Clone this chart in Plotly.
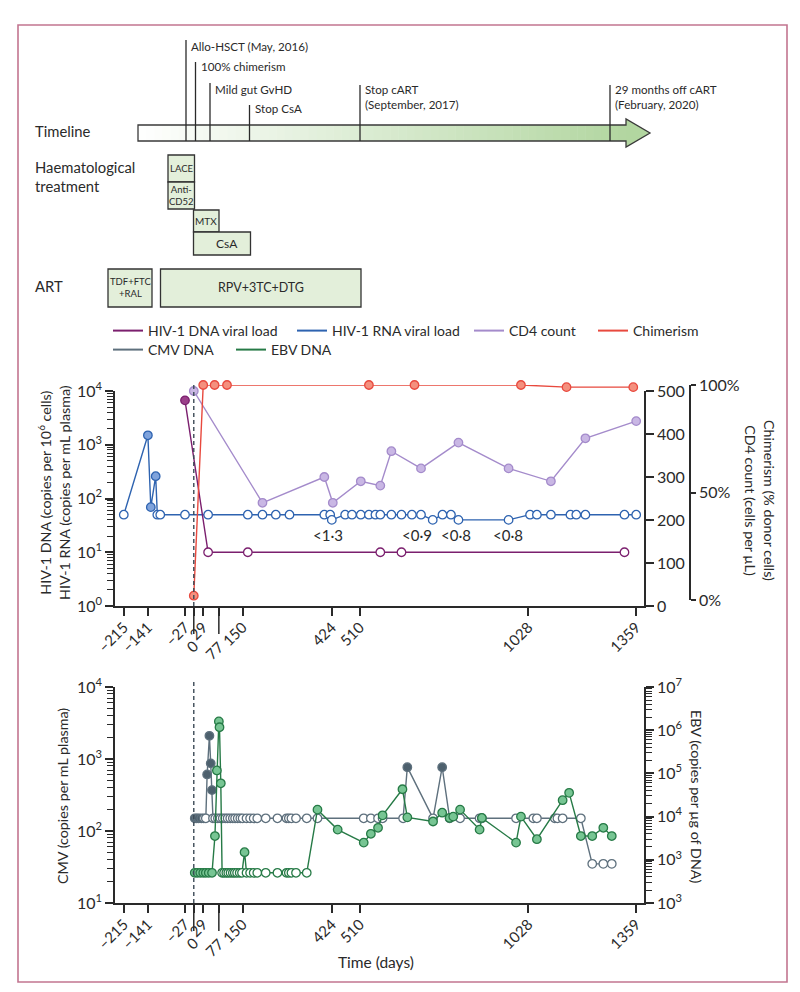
import math
import plotly.graph_objects as go

# ---------------- data ----------------
x_ticks = [-215, -141, -27, 0, 29, 77, 150, 424, 510, 1028, 1359]
x_tick_labels = ["–215", "–141", "–27", "0", "29", "77", "150", "424", "510", "1028", "1359"]
long_ticks = [0, 77]

# HIV-1 RNA (copies per mL plasma)
rna_days = [-215, -141, -132, -117, -112, -103, -27, 44, 166, 211, 252, 294,
            401, 419, 424, 465, 486, 513, 538, 558, 573, 607, 638, 670,
            698, 734, 764, 790, 813, 967, 1033, 1054, 1097, 1157, 1175, 1203,
            1323, 1359]
rna_vals = [50, 1500, 69, 260, 50, 50, 50, 50, 50, 50, 50, 50,
            50, 50, 40, 50, 50, 50, 50, 50, 50, 50, 50, 50,
            50, 40, 50, 50, 40, 40, 50, 50, 50, 50, 50, 50,
            50, 50]
rna_detected = [False, True, True, True] + [False] * 34

lod_days = [413, 686, 804, 966]
lod_labels = ["<1·3", "<0·9", "<0·8", "<0·8"]
lod_level = 21

# HIV-1 DNA (copies per 10^6 cells)
dna_days = [-27, 44, 166, 573, 638, 1323]
dna_vals = [6700, 10, 10, 10, 10, 10]
dna_detected = [True, False, False, False, False, False]

# CD4 count (cells per uL)
cd4_days = [0, 211, 401, 427, 513, 573, 607, 698, 813, 967, 1097, 1203, 1359]
cd4_vals = [500, 240, 300, 240, 290, 280, 360, 320, 380, 320, 290, 390, 430]

# Chimerism (% donor cells)
chim_days = [0, 29, 64, 102, 538, 678, 1005, 1145, 1350]
chim_vals = [2, 100, 100, 100, 100, 100, 100, 99, 99]

# CMV DNA (copies per mL plasma)
cmv_days = [3, 9, 15, 23, 31, 37, 41, 48, 52, 56,
            59, 66, 74, 82, 89, 97, 104, 112, 120, 127,
            135, 143, 150, 162, 173, 184, 195, 221, 257, 285,
            292, 300, 314, 347, 380, 522, 544, 566, 580, 643,
            656, 735, 763, 786, 818, 878, 885, 990, 1043, 1054,
            1109, 1117, 1133, 1189, 1224, 1258, 1284]
cmv_vals = [150, 150, 150, 150, 150, 150, 610, 2100, 870, 370,
            150, 150, 150, 150, 150, 150, 150, 150, 150, 150,
            150, 150, 150, 150, 150, 150, 150, 150, 150, 150,
            150, 150, 150, 150, 150, 150, 150, 150, 150, 150,
            770, 150, 770, 150, 150, 150, 150, 150, 150, 150,
            150, 150, 150, 150, 35, 35, 35]
cmv_detected = [True, True, True, True, False, False, True, True, True, True,
                False, False, False, False, False, False, False, False, False, False,
                False, False, False, False, False, False, False, False, False, False,
                False, False, False, False, False, False, False, False, False, False,
                True, False, True, False, False, False, False, False, False, False,
                False, False, False, False, False, False, False]

# EBV DNA (copies per ug of DNA)
ebv_days = [3, 11, 20, 29, 37, 46, 56,
            65, 71, 77, 79, 83,
            87, 93, 100, 106, 113, 120, 126, 133, 141, 148,
            156,
            162, 173, 184, 195, 221, 257, 285, 292, 300, 314, 347,
            380, 442, 522, 544, 566, 580, 641, 656, 735, 763, 786, 797,
            818, 878, 885, 990, 1005, 1054, 1133, 1153, 1189, 1224, 1258, 1284]
ebv_vals = [500, 500, 500, 500, 500, 500, 500,
            3550, 117000, 1600000, 1170000, 59000,
            500, 500, 500, 500, 500, 500, 500, 500, 500, 500,
            1500,
            500, 500, 500, 500, 500, 500, 500, 500, 500, 500, 500,
            14500, 5000, 2500, 4000, 5500, 10700, 43000, 9600, 7700, 12300, 9300, 10000,
            14500, 5000, 9300, 2500, 10000, 3000, 24000, 35500, 3550, 3550, 5500, 3550]
ebv_detected = ([True] * 7 + [True] * 5 + [False] * 10 + [True] + [False] * 11 + [True] * 24)

# timeline schematic
timeline_events = ["Allo-HSCT (May, 2016)", "100% chimerism", "Mild gut GvHD", "Stop CsA",
                   "Stop cART<br>(September, 2017)", "29 months off cART<br>(February, 2020)"]
haem_boxes = ["LACE", "Anti-<br>CD52", "MTX", "CsA"]
art_boxes = ["TDF+FTC<br>+RAL", "RPV+3TC+DTG"]

legend_names = ["HIV-1 DNA viral load", "HIV-1 RNA viral load", "CD4 count", "Chimerism",
                "CMV DNA", "EBV DNA"]

# ---------------- styling / layout helpers ----------------
W, H = 800, 992
def fx(p):
    return p / W
def fy(p):
    return 1 - p / H

FONT = "Lato, Liberation Sans, Arial, sans-serif"
INK = "#2a2a2a"
DNA_C, DNA_F = "#7b1f6e", "#9b3f8a"
RNA_C, RNA_F = "#2e63b0", "#7fa3dc"
CD4_C, CD4_F = "#a48bcb", "#c9b7e4"
CHIM_C, CHIM_F = "#e8493e", "#f4907e"
CMV_C, CMV_F = "#5e707d", "#4d606d"
EBV_C, EBV_F = "#267a46", "#77c593"

FS_TICK = 15
FS_YTICK = 16
FS_TITLE = 14.3
FS_LEG = 14
FS_SIDE = 14.8
FS_EVENT = 11.6

X_RANGE = [-242, 1383]
XDOM = [fx(115), fx(644)]
TOP = (391, 606)
BOT = (687, 903)

fig = go.Figure()

def series(xs, ys, det, line_c, fill_c, xa, ya, name):
    fills = [fill_c if d else "white" for d in det]
    fig.add_trace(go.Scatter(
        x=xs, y=ys, mode="lines+markers", name=name, showlegend=False,
        xaxis=xa, yaxis=ya, cliponaxis=False,
        line=dict(color=line_c, width=1.4),
        marker=dict(size=8.5, color=fills, line=dict(color=line_c, width=1.3)),
    ))

series(cd4_days, cd4_vals, [True] * len(cd4_days), CD4_C, CD4_F, "x", "y2", "CD4 count")
series(rna_days, rna_vals, rna_detected, RNA_C, RNA_F, "x", "y", "HIV-1 RNA viral load")
series(dna_days, dna_vals, dna_detected, DNA_C, DNA_F, "x", "y", "HIV-1 DNA viral load")
series(chim_days, chim_vals, [True] * len(chim_days), CHIM_C, CHIM_F, "x", "y3", "Chimerism")
series(cmv_days, cmv_vals, cmv_detected, CMV_C, CMV_F, "x2", "y4", "CMV DNA")
series(ebv_days, ebv_vals, ebv_detected, EBV_C, EBV_F, "x2", "y5", "EBV DNA")

# legend entries (line only), one small legend per entry
legend_colors = [DNA_C, RNA_C, CD4_C, CHIM_C, CMV_C, EBV_C]
legend_pos = [(115, 331), (299, 331), (476, 331), (600, 331), (115, 350), (238, 350)]
for i, (nm, col) in enumerate(zip(legend_names, legend_colors)):
    lid = "legend" if i == 0 else f"legend{i + 1}"
    fig.add_trace(go.Scatter(x=[None], y=[None], mode="lines", name=nm,
                             line=dict(color=col, width=2), legend=lid,
                             xaxis="x", yaxis="y", showlegend=True))

# ---------------- axes ----------------
def log_minor(lo, hi):
    return [k * 10 ** n for n in range(lo, hi) for k in range(2, 10)]

def sup_labels(lo, hi):
    return [f"10<sup>{n}</sup>" for n in range(lo, hi + 1)]

x_text = ["" if v in long_ticks else t for v, t in zip(x_ticks, x_tick_labels)]
xcommon = dict(domain=XDOM, range=X_RANGE, tickmode="array", tickvals=x_ticks, ticktext=x_text,
               tickangle=-45, ticks="outside", ticklen=8, tickwidth=1.5, tickcolor=INK,
               ticklabelstandoff=-3,
               showline=True, linecolor=INK, linewidth=1.6, showgrid=False, zeroline=False,
               automargin=False,
               tickfont=dict(size=FS_TICK, color=INK, family=FONT))
ycommon = dict(showgrid=False, zeroline=False, showline=True, linecolor=INK, linewidth=1.6,
               ticks="outside", tickcolor=INK, tickwidth=1.5, automargin=False,
               tickfont=dict(size=FS_YTICK, color=INK, family=FONT))

layout = dict(
    template="none",
    width=W, height=H, margin=dict(l=0, r=0, t=0, b=0, autoexpand=False),
    paper_bgcolor="white", plot_bgcolor="rgba(0,0,0,0)",
    font=dict(family=FONT, color=INK),
    xaxis=dict(anchor="y", **xcommon),
    xaxis2=dict(anchor="y4", **xcommon),
    yaxis=dict(domain=[fy(TOP[1]), fy(TOP[0])], type="log", range=[0, 4], anchor="x",
               tickmode="array", tickvals=[10 ** n for n in range(0, 5)], ticktext=sup_labels(0, 4),
               ticklen=8,
               minor=dict(ticks="outside", ticklen=6, tickcolor=INK, tickwidth=1.1,
                          tickmode="array", tickvals=log_minor(0, 4)),
               **ycommon),
    yaxis2=dict(overlaying="y", side="right", anchor="x", range=[0, 500],
                tickmode="array", tickvals=[0, 100, 200, 300, 400, 500], ticklen=8, **ycommon),
    yaxis3=dict(domain=[fy(600), fy(385)], anchor="free", position=fx(690), side="right",
                range=[0, 100], tickmode="array", tickvals=[0, 50, 100],
                ticktext=["0%", "50%", "100%"], ticklen=5, **ycommon),
    yaxis4=dict(domain=[fy(BOT[1]), fy(BOT[0])], type="log", range=[1, 4], anchor="x2",
                tickmode="array", tickvals=[10 ** n for n in range(1, 5)], ticktext=sup_labels(1, 4),
                ticklen=8,
                minor=dict(ticks="outside", ticklen=6, tickcolor=INK, tickwidth=1.1,
                           tickmode="array", tickvals=log_minor(1, 4)),
                **ycommon),
    yaxis5=dict(overlaying="y4", side="right", anchor="x2", type="log", range=[2, 7],
                tickmode="array", tickvals=[10 ** n for n in range(2, 8)],
                ticktext=["10<sup>3</sup>", "10<sup>3</sup>", "10<sup>4</sup>", "10<sup>5</sup>",
                          "10<sup>6</sup>", "10<sup>7</sup>"],
                ticklen=8,
                minor=dict(ticks="outside", ticklen=6, tickcolor=INK, tickwidth=1.1,
                           tickmode="array", tickvals=log_minor(2, 7)),
                **ycommon),
)

for i, (xp, yp) in enumerate(legend_pos):
    lid = "legend" if i == 0 else f"legend{i + 1}"
    layout[lid] = dict(x=fx(xp - 7), y=fy(yp), xanchor="left", yanchor="middle",
                       orientation="h", bgcolor="rgba(0,0,0,0)", borderwidth=0,
                       font=dict(size=FS_LEG, family=FONT, color=INK))

fig.update_layout(**layout)

shapes = []
annotations = []

# border
shapes.append(dict(type="rect", xref="paper", yref="paper", x0=fx(18), x1=fx(787), y0=fy(982), y1=fy(25),
                   line=dict(color="#c27590", width=1.6), fillcolor="rgba(0,0,0,0)", layer="below"))

# day-0 dashed lines and long ticks
for xa, ya, (t, b) in (("x", "y", TOP), ("x2", "y4", BOT)):
    shapes.append(dict(type="line", xref=xa, yref=f"{ya} domain", x0=0, x1=0, y0=0, y1=1.03,
                       line=dict(color="#3c4a56", width=1.4, dash="4px,3px")))
    for v, lab in zip(x_ticks, x_tick_labels):
        if v in long_ticks:
            shapes.append(dict(type="line", xref=xa, yref="paper", x0=v, x1=v, y0=fy(b), y1=fy(b + 28),
                               line=dict(color=INK, width=1.5)))
            annotations.append(dict(x=v, y=fy(b + 28), xref=xa, yref="paper", text=lab, showarrow=False,
                                    textangle=-45, xanchor="right", yanchor="top",
                                    xshift=11, yshift=0, font=dict(size=FS_TICK, family=FONT, color=INK)))

# below-detection labels
for d, lab in zip(lod_days, lod_labels):
    annotations.append(dict(x=d, y=math.log10(lod_level), xref="x", yref="y", text=lab, showarrow=False,
                            xanchor="center", yanchor="middle",
                            font=dict(size=15, family=FONT, color=INK)))

# axis titles
def title(x, y, text, ang, size=FS_TITLE):
    annotations.append(dict(x=fx(x), y=fy(y), xref="paper", yref="paper", text=text, showarrow=False,
                            textangle=ang, xanchor="center", yanchor="middle", align="center",
                            font=dict(size=size, family=FONT, color=INK)))

title(54, 493, "HIV-1 DNA (copies per 10<sup>6</sup> cells)<br>HIV-1 RNA (copies per mL plasma)", -90)
title(760, 500, "Chimerism (% donor cells)<br>CD4 count (cells per µL)", 90)
title(62, 796, "CMV (copies per mL plasma)", -90)
title(697, 796, "EBV (copies per µg of DNA)", 90)
title(376, 962, "Time (days)", 0, 15.5)

# ---------------- timeline schematic ----------------
def left_label(x, y, text, size):
    annotations.append(dict(x=fx(x), y=fy(y), xref="paper", yref="paper", text=text, showarrow=False,
                            xanchor="left", yanchor="middle", align="left",
                            font=dict(size=size, family=FONT, color=INK)))

left_label(33, 131, "Timeline", FS_SIDE)
left_label(33, 176, "Haematological<br>treatment", FS_SIDE)
left_label(33, 286, "ART", FS_SIDE)

# arrow with gradient body
ax0, ax1, atip = 138, 626, 650
ay0, ay1 = 125, 141
c0, c1 = (255, 255, 255), (178, 214, 160)
n = 60
for k in range(n):
    t = (k + 0.5) / n
    col = tuple(int(round(c0[j] + (c1[j] - c0[j]) * t)) for j in range(3))
    xa0 = ax0 + (ax1 - ax0) * k / n
    xa1 = ax0 + (ax1 - ax0) * (k + 1) / n + 0.5
    shapes.append(dict(type="rect", xref="paper", yref="paper", x0=fx(xa0), x1=fx(xa1), y0=fy(ay1), y1=fy(ay0),
                       line=dict(width=0), fillcolor=f"rgb{col}"))
outline = (f"M {fx(ax0)},{fy(ay0)} L {fx(ax1)},{fy(ay0)} L {fx(ax1)},{fy(119)} L {fx(atip)},{fy(133)} "
           f"L {fx(ax1)},{fy(147)} L {fx(ax1)},{fy(ay1)} L {fx(ax0)},{fy(ay1)} Z")
head = f"M {fx(ax1)},{fy(119)} L {fx(atip)},{fy(133)} L {fx(ax1)},{fy(147)} Z"
shapes.append(dict(type="path", xref="paper", yref="paper", path=head, fillcolor="rgb(178,214,160)",
                   line=dict(width=0)))
shapes.append(dict(type="path", xref="paper", yref="paper", path=outline, fillcolor="rgba(0,0,0,0)",
                   line=dict(color="#3a3a3a", width=1.3)))

event_x = [186, 195.5, 210, 249.5, 360, 610]
event_top = [40, 62, 83, 105, 85, 85]
event_text_y = [47, 67, 89, 108, 97, 97]
for lab, x, top, ty in zip(timeline_events, event_x, event_top, event_text_y):
    shapes.append(dict(type="line", xref="paper", yref="paper", x0=fx(x), x1=fx(x), y0=fy(top), y1=fy(ay1),
                       line=dict(color=INK, width=1.3)))
    annotations.append(dict(x=fx(x + 3), y=fy(ty), xref="paper", yref="paper", text=lab, showarrow=False,
                            xanchor="left", yanchor="middle", align="left",
                            font=dict(size=FS_EVENT, family=FONT, color=INK)))

BOX_FILL = "#e3efda"
haem_geom = [(168, 194.5, 155, 182), (168, 194.5, 182, 209), (193.5, 219, 210, 232), (193.5, 250.5, 232, 255)]
haem_size = [9.5, 9.5, 10, 12]
art_geom = [(108, 152, 269, 307), (160.5, 361, 269, 307)]
art_size = [9.5, 12.5]
for lab, (x0, x1, y0, y1), sz in list(zip(haem_boxes, haem_geom, haem_size)) + list(zip(art_boxes, art_geom, art_size)):
    shapes.append(dict(type="rect", xref="paper", yref="paper", x0=fx(x0), x1=fx(x1), y0=fy(y1), y1=fy(y0),
                       line=dict(color="#333333", width=1.3), fillcolor=BOX_FILL))
    cx = (x0 + x1) / 2 + (5 if lab == "CsA" else 0)
    annotations.append(dict(x=fx(cx), y=fy((y0 + y1) / 2), xref="paper", yref="paper", text=lab,
                            showarrow=False, align="center", xanchor="center", yanchor="middle",
                            font=dict(size=sz, family=FONT, color=INK)))

fig.update_layout(shapes=shapes, annotations=annotations)
fig.write_html("out.html", config={"displayModeBar": False},
               post_script="document.body.style.margin='0px';")
